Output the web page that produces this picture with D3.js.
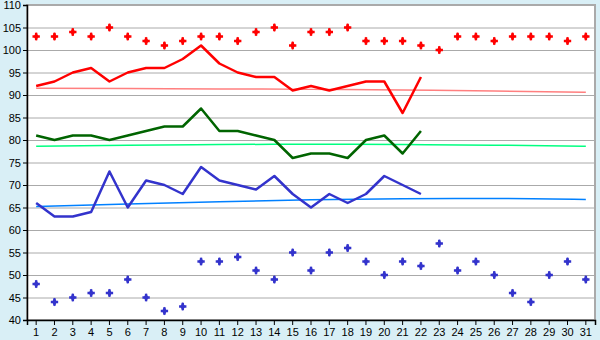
<!DOCTYPE html>
<html>
<head>
<meta charset="utf-8">
<script src="https://cdn.jsdelivr.net/npm/d3@7"></script>
<style>
  body { margin: 0; background: #d9eff6; }
  svg { display: block; font-family: "DejaVu Sans", Verdana, sans-serif; }
</style>
</head>
<body>
<script>
const days = d3.range(1, 32);
const yTicks = d3.range(40, 111, 5);

// upper scatter (red diamonds)
const redPoints = [103, 103, 104, 103, 105, 103, 102, 101, 102, 103, 103, 102, 104, 105, 101, 104,
    104, 105, 102, 102, 102, 101, 100, 103, 103, 102, 103, 103, 103, 102, 103];
// lower scatter (blue diamonds)
const bluePoints = [48, 44, 45, 46, 46, 49, 45, 42, 43, 53, 53, 54, 51, 49, 55, 51,
    55, 56, 53, 50, 53, 52, 57, 51, 53, 50, 46, 44, 50, 53, 49];

// lines, days 1-22
const redLine = [92, 93, 95, 96, 93, 95, 96, 96, 98, 101, 97, 95, 94, 94, 91, 92, 91, 92, 93, 93, 86, 94];
const greenLine = [81, 80, 81, 81, 80, 81, 82, 83, 83, 87, 82, 82, 81, 80, 76, 77, 77, 76, 80, 81, 77, 82];
const blueLine = [66, 63, 63, 64, 73, 65, 71, 70, 68, 74, 71, 70, 69, 72, 68, 65, 68, 66, 68, 72, 70, 68];

// trend lines, read at a few days
const trendDays = [1, 6, 11, 16, 21, 26, 31];
const redTrend = [91.5, 91.45, 91.35, 91.25, 91.1, 90.9, 90.6];
const greenTrend = [78.6, 78.85, 79.0, 79.05, 79.0, 78.85, 78.6];
const blueTrend = [65.2, 65.8, 66.3, 66.7, 66.95, 67.0, 66.8];

const width = 600, height = 340;
const margin = { top: 5, right: 5, bottom: 20, left: 27 };

const svg = d3.select('body').append('svg')
    .attr('width', width).attr('height', height);

const x = d3.scaleBand()
    .domain(days)
    .range([margin.left, width - margin.right]);
const cx = d => x(d) + x.bandwidth() / 2;

const y = d3.scaleLinear()
    .domain([40, 110])
    .range([height - margin.bottom, margin.top]);

// plot background
svg.append('rect')
    .attr('x', margin.left).attr('y', margin.top)
    .attr('width', width - margin.right - margin.left)
    .attr('height', height - margin.bottom - margin.top)
    .attr('fill', '#fff')
    .attr('stroke', '#aaa').attr('stroke-width', 2);

// gridlines
svg.append('g')
    .selectAll('line')
    .data(yTicks.slice(1))
    .enter().append('line')
    .attr('x1', margin.left).attr('x2', width - margin.right)
    .attr('y1', d => y(d) + 0.5).attr('y2', d => y(d) + 0.5)
    .attr('stroke', '#aaa').attr('stroke-width', 1);

// axes
const yAxis = svg.append('g')
    .attr('transform', `translate(${margin.left},0)`)
    .call(d3.axisLeft(y).tickValues(yTicks).tickSize(4).tickPadding(2));
const xAxis = svg.append('g')
    .attr('transform', `translate(0,${height - margin.bottom})`)
    .call(d3.axisBottom(x).tickSize(5).tickPadding(3));

[xAxis, yAxis].forEach(g => {
    g.select('.domain').attr('stroke', '#000').attr('stroke-width', 1.5);
    g.selectAll('text').attr('fill', '#000').style('font-size', '11px');
});

// trend lines
const trendLine = d3.line()
    .x((d, i) => cx(trendDays[i]))
    .y(d => y(d))
    .curve(d3.curveMonotoneX);

[[redTrend, '#ff7f7f'], [greenTrend, '#00ff80'], [blueTrend, '#0080ff']].forEach(([vals, col]) => {
    svg.append('path')
        .attr('d', trendLine(vals))
        .attr('fill', 'none')
        .attr('stroke', col)
        .attr('stroke-width', 1.5);
});

// data lines
const seriesLine = d3.line()
    .x((d, i) => cx(days[i]))
    .y(d => y(d));

[[redLine, '#ff0000'], [greenLine, '#006400'], [blueLine, '#3333cc']].forEach(([vals, col]) => {
    svg.append('path')
        .attr('d', seriesLine(vals))
        .attr('fill', 'none')
        .attr('stroke', col)
        .attr('stroke-width', 2.5)
        .attr('stroke-linejoin', 'round');
});

// scatter markers: small diamond with a cross through it
const crossMark = d3.symbol().type(d3.symbolCross).size(30);
const diamondMark = d3.symbol().type(d3.symbolDiamond).size(20);

[[redPoints, '#ff0000'], [bluePoints, '#3333cc']].forEach(([vals, col]) => {
    const g = svg.append('g')
        .selectAll('g')
        .data(vals)
        .enter().append('g')
        .attr('transform', (d, i) => `translate(${cx(days[i])},${y(d)})`)
        .attr('fill', col);
    g.append('path').attr('d', crossMark);
    g.append('path').attr('d', diamondMark);
});
</script>
</body>
</html>
